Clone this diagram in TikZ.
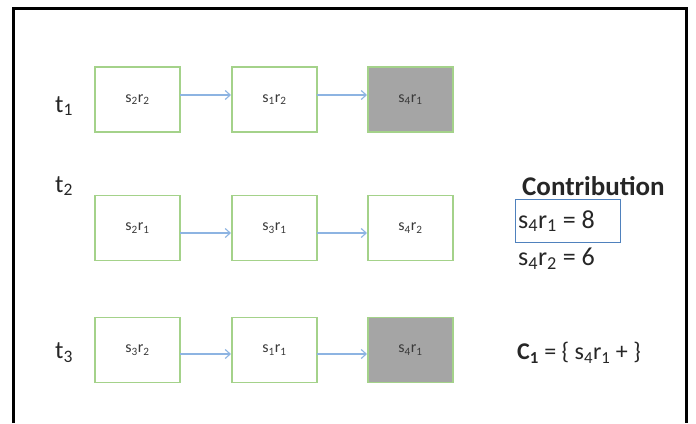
\documentclass[tikz,border=0pt]{standalone}
\usepackage{fontspec}
\setmainfont{Carlito}
\usetikzlibrary{arrows.meta}
\definecolor{boxgreen}{HTML}{A4D28A}
\definecolor{arrblue}{HTML}{8DB4E2}
\definecolor{boxgray}{HTML}{A5A5A5}
\definecolor{txtgray}{HTML}{3A3A3A}
\definecolor{hlblue}{HTML}{4F81BD}
\newcommand{\subx}[1]{\textsubscript{#1}}
\begin{document}
\begin{tikzpicture}[x=1pt,y=-1pt,
  cell/.style={draw=boxgreen,line width=1.6pt,minimum width=85pt,minimum height=65pt,inner sep=0pt,font=\fontsize{16}{18}\selectfont,text=txtgray},
  shaded/.style={cell,fill=boxgray},
  flow/.style={draw=arrblue,line width=1.1pt,-{Straight Barb[length=5pt,width=9pt]}},
  tlab/.style={font=\fontsize{25}{28}\selectfont,text=black!85},
  big/.style={font=\fontsize{26}{30}\selectfont,text=black!85,anchor=west,inner sep=0pt}]
\useasboundingbox (0,0) rectangle (696,423);
\fill[white] (0,0) rectangle (696,423);
\draw[line width=3pt] (13,423) -- (13,8) -- (686,8) -- (686,423);
% row 1
\node[cell] (a1) at (137.5,99.5) {s\subx{2}r\subx{2}};
\node[cell] (a2) at (274.5,99.5) {s\subx{1}r\subx{2}};
\node[shaded] (a3) at (410.5,99.5) {s\subx{4}r\subx{1}};
\coordinate (a1e) at (180,95); \coordinate (a2w) at (231,95);
\coordinate (a2e) at (317,95); \coordinate (a3w) at (367,95);
\draw[flow] (a1e) -- (a2w);
\draw[flow] (a2e) -- (a3w);
\node[tlab] (t1) at (64,106) {t\subx{1}};
% row 2
\node[cell] (b1) at (137.5,228) {s\subx{2}r\subx{1}};
\node[cell] (b2) at (274.5,228) {s\subx{3}r\subx{1}};
\node[cell] (b3) at (410.5,228) {s\subx{4}r\subx{2}};
\coordinate (b1e) at (180,233); \coordinate (b2w) at (231,233);
\coordinate (b2e) at (317,233); \coordinate (b3w) at (367,233);
\draw[flow] (b1e) -- (b2w);
\draw[flow] (b2e) -- (b3w);
\node[tlab] (t2) at (64,186) {t\subx{2}};
% row 3
\node[cell] (c1) at (137.5,350) {s\subx{3}r\subx{2}};
\node[cell] (c2) at (274.5,350) {s\subx{1}r\subx{1}};
\node[shaded] (c3) at (410.5,350) {s\subx{4}r\subx{1}};
\coordinate (c1e) at (180,354); \coordinate (c2w) at (231,354);
\coordinate (c2e) at (317,354); \coordinate (c3w) at (367,354);
\draw[flow] (c1e) -- (c2w);
\draw[flow] (c2e) -- (c3w);
\node[tlab] (t3) at (64,353) {t\subx{3}};
% contribution
\node[font=\fontsize{27}{30}\selectfont\bfseries,text=black!85,anchor=west,inner sep=0pt] (contrib) at (522,186) {Contribution};
\node[draw=hlblue,line width=1.2pt,minimum width=105pt,minimum height=43pt,anchor=north west,inner sep=0pt] (hl) at (515,199) {};
\node[big] (v1) at (518,221) {s\subx{4}r\subx{1} = 8};
\node[big] (v2) at (518,259) {s\subx{4}r\subx{2} = 6};
\node[big,font=\fontsize{24}{28}\selectfont] (cset) at (517,353) {\textbf{C\subx{1}} = \{ s\subx{4}r\subx{1} + \}};
\end{tikzpicture}
\end{document}
